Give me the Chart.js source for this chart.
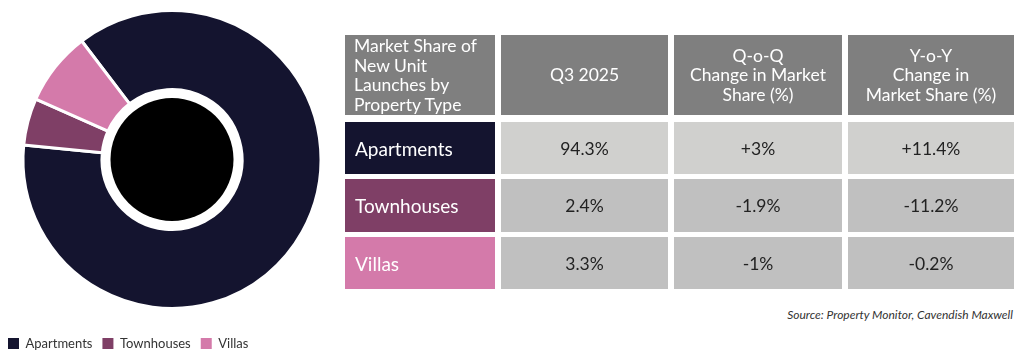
<!DOCTYPE html>
<html>
<head>
<meta charset="utf-8">
<script src="https://cdn.jsdelivr.net/npm/chart.js"></script>
<style>
  html, body { margin: 0; padding: 0; background: #fff; }
  body { width: 1024px; height: 360px; position: relative; overflow: hidden; font-family: Lato, "Open Sans", sans-serif; }
  #chart-wrap { position: absolute; left: -2px; top: -8px; width: 348px; height: 368px; }
  #table { position: absolute; left: 345px; top: 35px; display: grid;
    grid-template-columns: 150px 167px 168px 166px; grid-template-rows: 82px 52px 53px 52px;
    column-gap: 6px; row-gap: 5px; }
  .cell { display: flex; align-items: center; justify-content: center; box-sizing: border-box; }
  .head { background: #7f7f7f; color: #fff; font-size: 17.5px; line-height: 19.5px; text-align: center; height: 80px; }
  .head.first { justify-content: flex-start; text-align: left; padding-left: 9px; }
  .type { color: #fff; font-size: 19px; justify-content: flex-start; padding-left: 10px; }
  .val { color: #222; font-size: 17.5px; }
  #source { position: absolute; right: 11px; top: 307px; font-size: 12px; font-style: italic; color: #333; }
</style>
</head>
<body>
<div id="chart-wrap"><canvas id="myChart"></canvas></div>
<div id="table"></div>
<div id="source">Source: Property Monitor, Cavendish Maxwell</div>
<script>
const types = ['Apartments', 'Townhouses', 'Villas'];
const typeColors = ['#14142f', '#7f3f66', '#d47aaa'];
// donut slice sizes as drawn (%)
const donutShare = [86.9, 5.1, 8.0];
const headers = ['Market Share of<br>New Unit<br>Launches by<br>Property Type', 'Q3 2025', 'Q-o-Q<br>Change in Market<br>Share (%)', 'Y-o-Y<br>Change in<br>Market Share (%)'];
const q3Share = ['94.3%', '2.4%', '3.3%'];
const qoqChange = ['+3%', '-1.9%', '-1%'];
const yoyChange = ['+11.4%', '-11.2%', '-0.2%'];
const rowFill = ['#d0d0ce', '#c0c0c0', '#c0c0c0'];

// table
const table = document.getElementById('table');
headers.forEach((h, i) => {
    const d = document.createElement('div');
    d.className = 'cell head' + (i === 0 ? ' first' : '');
    d.innerHTML = h;
    table.appendChild(d);
});
types.forEach((t, r) => {
    const lab = document.createElement('div');
    lab.className = 'cell type';
    lab.style.background = typeColors[r];
    lab.textContent = t;
    table.appendChild(lab);
    [q3Share[r], qoqChange[r], yoyChange[r]].forEach(v => {
        const d = document.createElement('div');
        d.className = 'cell val';
        d.style.background = rowFill[r];
        d.textContent = v;
        table.appendChild(d);
    });
});

// black disc in the middle of the donut
const centerDisc = {
    id: 'centerDisc',
    afterDatasetsDraw(chart) {
        const arc = chart.getDatasetMeta(0).data[0];
        if (!arc) return;
        const ctx = chart.ctx;
        ctx.save();
        ctx.beginPath();
        ctx.arc(arc.x, arc.y, 61.5, 0, Math.PI * 2);
        ctx.fillStyle = '#000';
        ctx.fill();
        ctx.restore();
    }
};

const ctx = document.getElementById('myChart').getContext('2d');
new Chart(ctx, {
    type: 'doughnut',
    data: {
        labels: types,
        datasets: [{
            data: donutShare,
            backgroundColor: typeColors,
            borderColor: '#fff',
            borderWidth: 3,
            hoverOffset: 0
        }]
    },
    options: {
        responsive: true,
        maintainAspectRatio: false,
        animation: false,
        rotation: -37.3,
        radius: 149,
        cutout: 78,
        layout: { padding: 0 },
        plugins: {
            tooltip: { enabled: false },
            legend: {
                position: 'bottom',
                align: 'start',
                labels: {
                    boxWidth: 11,
                    boxHeight: 11,
                    padding: 10,
                    color: '#333',
                    font: { family: 'Lato', size: 13 },
                    generateLabels(chart) {
                        const items = Chart.overrides.doughnut.plugins.legend.labels.generateLabels(chart);
                        items.forEach(it => { it.lineWidth = 0; });
                        return items;
                    }
                }
            }
        }
    },
    plugins: [centerDisc]
});
</script>
</body>
</html>
